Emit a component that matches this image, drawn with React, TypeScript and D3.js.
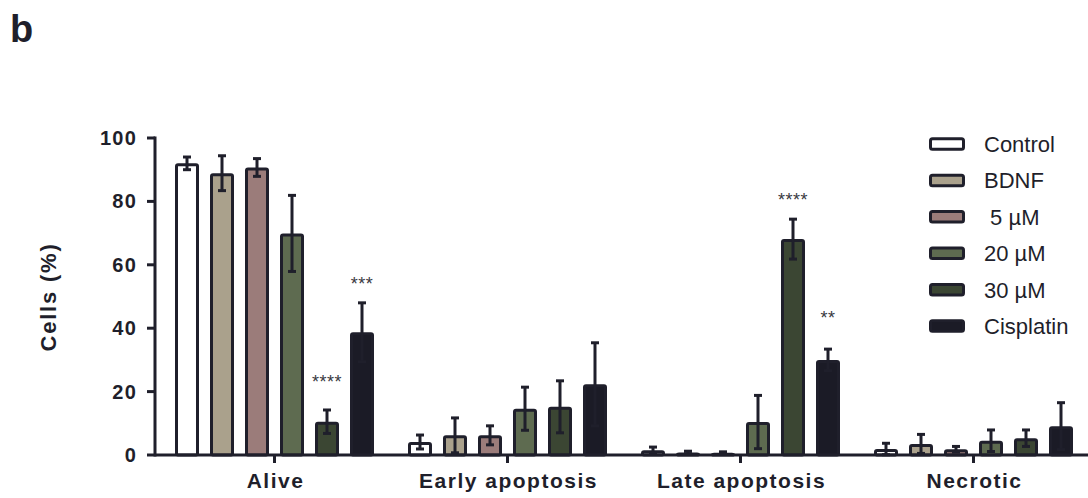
import React, { useEffect, useRef } from "react";
import * as d3 from "d3";

// categories and groups
const categories = ["Alive", "Early apoptosis", "Late apoptosis", "Necrotic"];
const series = ["Control", "BDNF", " 5 µM", "20 µM", "30 µM", "Cisplatin"];
const colors = ["#ffffff", "#aaa18c", "#9b7c7a", "#5e6b50", "#3b4633", "#1b1b26"];

// mean % of cells, one array per group (order = categories)
const control = [92.0, 4.1, 1.5, 1.9];
const bdnf = [88.9, 6.2, 0.8, 3.5];
const um5 = [90.7, 6.2, 0.7, 1.8];
const um20 = [69.9, 14.6, 10.4, 4.5];
const um30 = [10.5, 15.2, 68.1, 5.3];
const cisplatin = [38.7, 22.3, 30.0, 9.1];

// error bars
const controlErr = [2.0, 2.2, 1.0, 1.8];
const bdnfErr = [5.5, 5.5, 0.4, 3.0];
const um5Err = [2.8, 3.0, 0.3, 0.9];
const um20Err = [12.0, 6.8, 8.4, 3.4];
const um30Err = [3.7, 8.2, 6.3, 2.6];
const cisplatinErr = [9.3, 13.1, 3.4, 7.4];

const means = [control, bdnf, um5, um20, um30, cisplatin];
const errs = [controlErr, bdnfErr, um5Err, um20Err, um30Err, cisplatinErr];

const yTicks = [0, 20, 40, 60, 80, 100];

// significance marks (level = value where the stars sit)
const sigCategory = ["Alive", "Alive", "Late apoptosis", "Late apoptosis"];
const sigSeries = ["30 µM", "Cisplatin", "30 µM", "Cisplatin"];
const sigText = ["****", "***", "****", "**"];
const sigLevel = [24.3, 55.2, 81.7, 44.5];

const INK = "#1f1f2b";

export default function App() {
  const ref = useRef<SVGSVGElement>(null);

  useEffect(() => {
    const svg = d3.select(ref.current);
    svg.selectAll("*").remove();

    const left = 155, right = 1088, top = 138, base = 455;

    const y = d3.scaleLinear().domain([0, 100]).range([base, top]);
    const x0 = d3.scaleBand().domain(categories).range([158, 1090]);
    const x1 = d3
      .scaleBand()
      .domain(series)
      .range([-105, 105])
      .paddingInner(11 / 35)
      .paddingOuter(11 / 70);

    const rows: any[] = [];
    categories.forEach((c, ci) => {
      series.forEach((s, si) => {
        rows.push({ c, s, si, v: means[si][ci], e: errs[si][ci] });
      });
    });
    const cx = (d: any) => x0(d.c)! + x0.bandwidth() / 2 + x1(d.s)! + x1.bandwidth() / 2;

    const g = svg.append("g");

    // bars
    g.selectAll("rect.bar")
      .data(rows)
      .join("rect")
      .attr("class", "bar")
      .attr("x", (d) => cx(d) - x1.bandwidth() / 2 + 1.5)
      .attr("width", x1.bandwidth() - 3)
      .attr("y", (d) => y(d.v) + 1.5)
      .attr("height", (d) => Math.max(0, base - y(d.v) - 1.5))
      .attr("rx", 1.5)
      .attr("fill", (d) => colors[d.si])
      .attr("stroke", INK)
      .attr("stroke-width", 3);

    // error bars
    const eb = g.selectAll("g.err").data(rows).join("g").attr("class", "err")
      .attr("stroke", INK).attr("stroke-width", 3);
    eb.append("line")
      .attr("x1", cx).attr("x2", cx)
      .attr("y1", (d) => y(d.v + d.e)).attr("y2", (d) => y(Math.max(0, d.v - d.e)));
    eb.append("line")
      .attr("x1", (d) => cx(d) - 4).attr("x2", (d) => cx(d) + 4)
      .attr("y1", (d) => y(d.v + d.e)).attr("y2", (d) => y(d.v + d.e));
    eb.append("line")
      .attr("x1", (d) => cx(d) - 4).attr("x2", (d) => cx(d) + 4)
      .attr("y1", (d) => y(Math.max(0, d.v - d.e))).attr("y2", (d) => y(Math.max(0, d.v - d.e)));

    // significance stars
    g.selectAll("text.sig")
      .data(sigText)
      .join("text")
      .attr("class", "sig")
      .attr("x", (t, i) => cx({ c: sigCategory[i], s: sigSeries[i] }))
      .attr("y", (t, i) => y(sigLevel[i]) + 10)
      .attr("text-anchor", "middle")
      .style("font-family", "'Liberation Sans', Arial, sans-serif")
      .style("font-size", "18px")
      .style("letter-spacing", "0.5px")
      .attr("fill", "#3a3a42")
      .text((t) => t);

    // y axis
    const ya = svg.append("g").attr("stroke", INK).attr("stroke-width", 3);
    ya.append("line").attr("x1", left).attr("x2", left).attr("y1", top - 1.5).attr("y2", base + 1.5);
    ya.selectAll("line.tick").data(yTicks).join("line").attr("class", "tick")
      .attr("x1", left - 8).attr("x2", left).attr("y1", (d) => y(d)).attr("y2", (d) => y(d));
    svg.selectAll("text.ytick").data(yTicks).join("text").attr("class", "ytick")
      .attr("x", 137).attr("y", (d) => y(d) + 7)
      .attr("text-anchor", "end")
      .style("font-family", "'Liberation Sans', Arial, sans-serif")
      .style("font-weight", "bold").style("font-size", "20px").style("letter-spacing", "1.2px")
      .attr("fill", INK)
      .text((d) => d);

    // x axis
    const xa = svg.append("g").attr("stroke", INK).attr("stroke-width", 3);
    xa.append("line").attr("x1", left).attr("x2", right).attr("y1", base).attr("y2", base);
    xa.selectAll("line.tick").data(categories).join("line").attr("class", "tick")
      .attr("x1", (d) => x0(d)! + x0.bandwidth() / 2).attr("x2", (d) => x0(d)! + x0.bandwidth() / 2)
      .attr("y1", base).attr("y2", base + 8);
    svg.selectAll("text.xlab").data(categories).join("text").attr("class", "xlab")
      .attr("x", (d) => x0(d)! + x0.bandwidth() / 2 + 1).attr("y", 488)
      .attr("text-anchor", "middle")
      .style("font-family", "'Liberation Sans', Arial, sans-serif")
      .style("font-weight", "bold").style("font-size", "21px").style("letter-spacing", "1.5px")
      .attr("fill", INK)
      .text((d) => d);

    // y label
    svg.append("text")
      .attr("transform", "translate(56, 297) rotate(-90)")
      .attr("text-anchor", "middle")
      .style("font-family", "'Liberation Sans', Arial, sans-serif")
      .style("font-weight", "bold").style("font-size", "22px").style("letter-spacing", "1.8px")
      .attr("fill", INK)
      .text("Cells (%)");

    // panel letter
    svg.append("text")
      .attr("x", 10).attr("y", 42)
      .style("font-family", "'Liberation Sans', Arial, sans-serif")
      .style("font-weight", "bold").style("font-size", "38px")
      .attr("fill", INK)
      .text("b");

    // legend
    const ly = d3.scalePoint().domain(series).range([144, 326]);
    const lg = svg.append("g");
    lg.selectAll("rect").data(series).join("rect")
      .attr("x", 930.5).attr("width", 33)
      .attr("y", (d) => ly(d)! - 5.2).attr("height", 10.5)
      .attr("rx", 2)
      .attr("fill", (d, i) => colors[i])
      .attr("stroke", INK).attr("stroke-width", 3);
    lg.selectAll("text").data(series).join("text")
      .attr("x", 984).attr("y", (d) => ly(d)! + 8)
      .style("font-family", "'Liberation Sans', Arial, sans-serif")
      .style("font-size", "22px")
      .style("white-space", "pre")
      .attr("fill", INK)
      .text((d) => d);
  }, []);

  return (
    <svg
      ref={ref}
      width={1088}
      height={498}
      style={{ position: "absolute", left: 0, top: 0, background: "#fff" }}
    />
  );
}
